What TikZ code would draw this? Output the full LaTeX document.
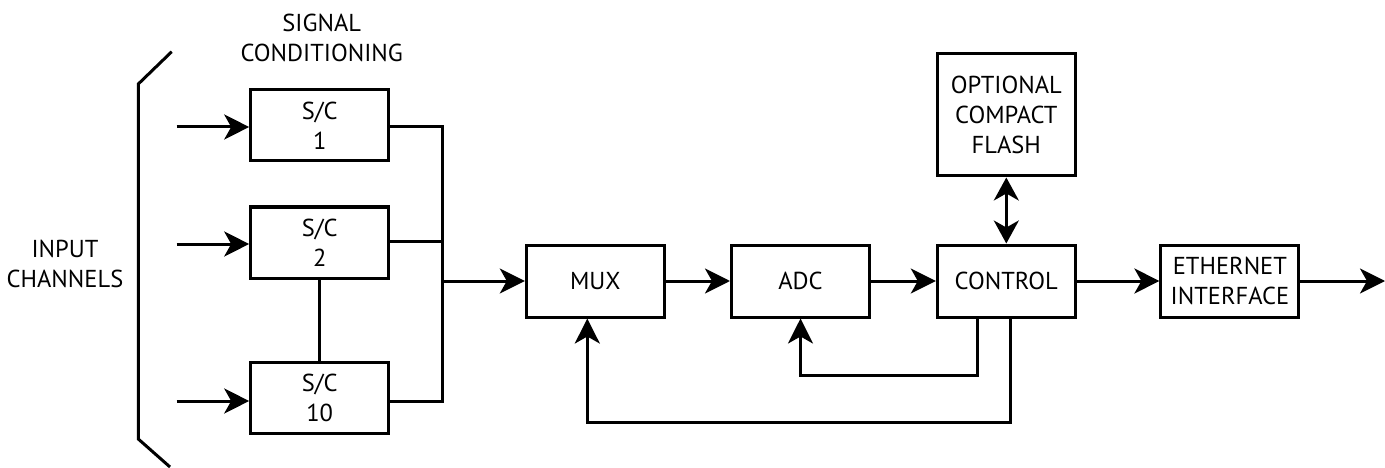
\documentclass[tikz,border=0pt]{standalone}
\usepackage{fontspec}
\setmainfont{PT Sans}
\usetikzlibrary{arrows.meta}
\begin{document}
\begin{tikzpicture}[x=1pt,y=-1pt,
  line width=3pt,
  every node/.style={font=\fontsize{24.5}{30}\selectfont, align=center, inner sep=0pt},
  blk/.style={draw, minimum width=138pt, minimum height=71pt},
  arr/.style={-{Stealth[length=25pt,width=25pt,inset=7pt]}},
  darr/.style={{Stealth[length=23pt,width=25pt,inset=7pt]}-{Stealth[length=23pt,width=25pt,inset=7pt]}},
  lbl/.style={}
]
\useasboundingbox (0,0) rectangle (1385,468);

% bracket
\draw (171.7,51.7) -- (138.3,84) -- (138.3,439) -- (170,467);

% labels
\node[lbl] (inch) at (65,264) {INPUT\\CHANNELS};
\node[lbl] (sigc) at (321.7,38) {SIGNAL\\CONDITIONING};

% S/C boxes
\node[blk] (sc1) at (319.7,125.5) {S/C\\1};
\node[blk] (sc2) at (319.7,242.5) {S/C\\2};
\node[blk] (sc10) at (319.7,397.5) {S/C\\10};

% chain
\node[blk, minimum height=72pt] (mux) at (595.3,281) {MUX};
\node[blk, minimum height=72pt] (adc) at (800.5,281) {ADC};
\node[blk, minimum height=72pt] (ctrl) at (1006.3,281) {CONTROL};
\node[blk, minimum height=72pt] (eth) at (1229.9,281) {ETHERNET\\INTERFACE};
\node[blk, minimum height=122pt] (cf) at (1006.3,115) {OPTIONAL\\COMPACT\\FLASH};

% input arrows
\coordinate (i1) at (176.7,127);
\coordinate (i2) at (176.7,244);
\coordinate (i3) at (176.7,401);
\draw[arr] (i1) -- (i1 -| sc1.west);
\draw[arr] (i2) -- (i2 -| sc2.west);
\draw[arr] (i3) -- (i3 -| sc10.west);

% bus
\coordinate (b1) at (442.7,127);
\coordinate (b2) at (442.7,241);
\coordinate (b3) at (442.7,401);
\coordinate (bo) at (442.7,281);
\draw (b1 -| sc1.east) -- (b1) -- (b3) -- (b3 -| sc10.east);
\draw (b2 -| sc2.east) -- (b2);
\draw[arr] (bo) -- (mux.west);

% S/C 2 to S/C 10
\draw (sc2.south) -- (sc10.north);

% chain arrows
\draw[arr] (mux) -- (adc);
\draw[arr] (adc) -- (ctrl);
\draw[arr] (ctrl) -- (eth);
\coordinate (out) at (1385,281);
\draw[arr] (eth) -- (out);
\draw[darr] (cf) -- (ctrl);

% feedback
\coordinate (f1) at (977.3,375.3);
\coordinate (f2) at (1010,422.7);
\draw[arr] (ctrl.south -| f1) -- (f1) -- (f1 -| adc.south) -- (adc.south);
\draw[arr] (ctrl.south -| f2) -- (f2) -- (f2 -| 587.3,0) -- (mux.south -| 587.3,0);
\end{tikzpicture}
\end{document}
